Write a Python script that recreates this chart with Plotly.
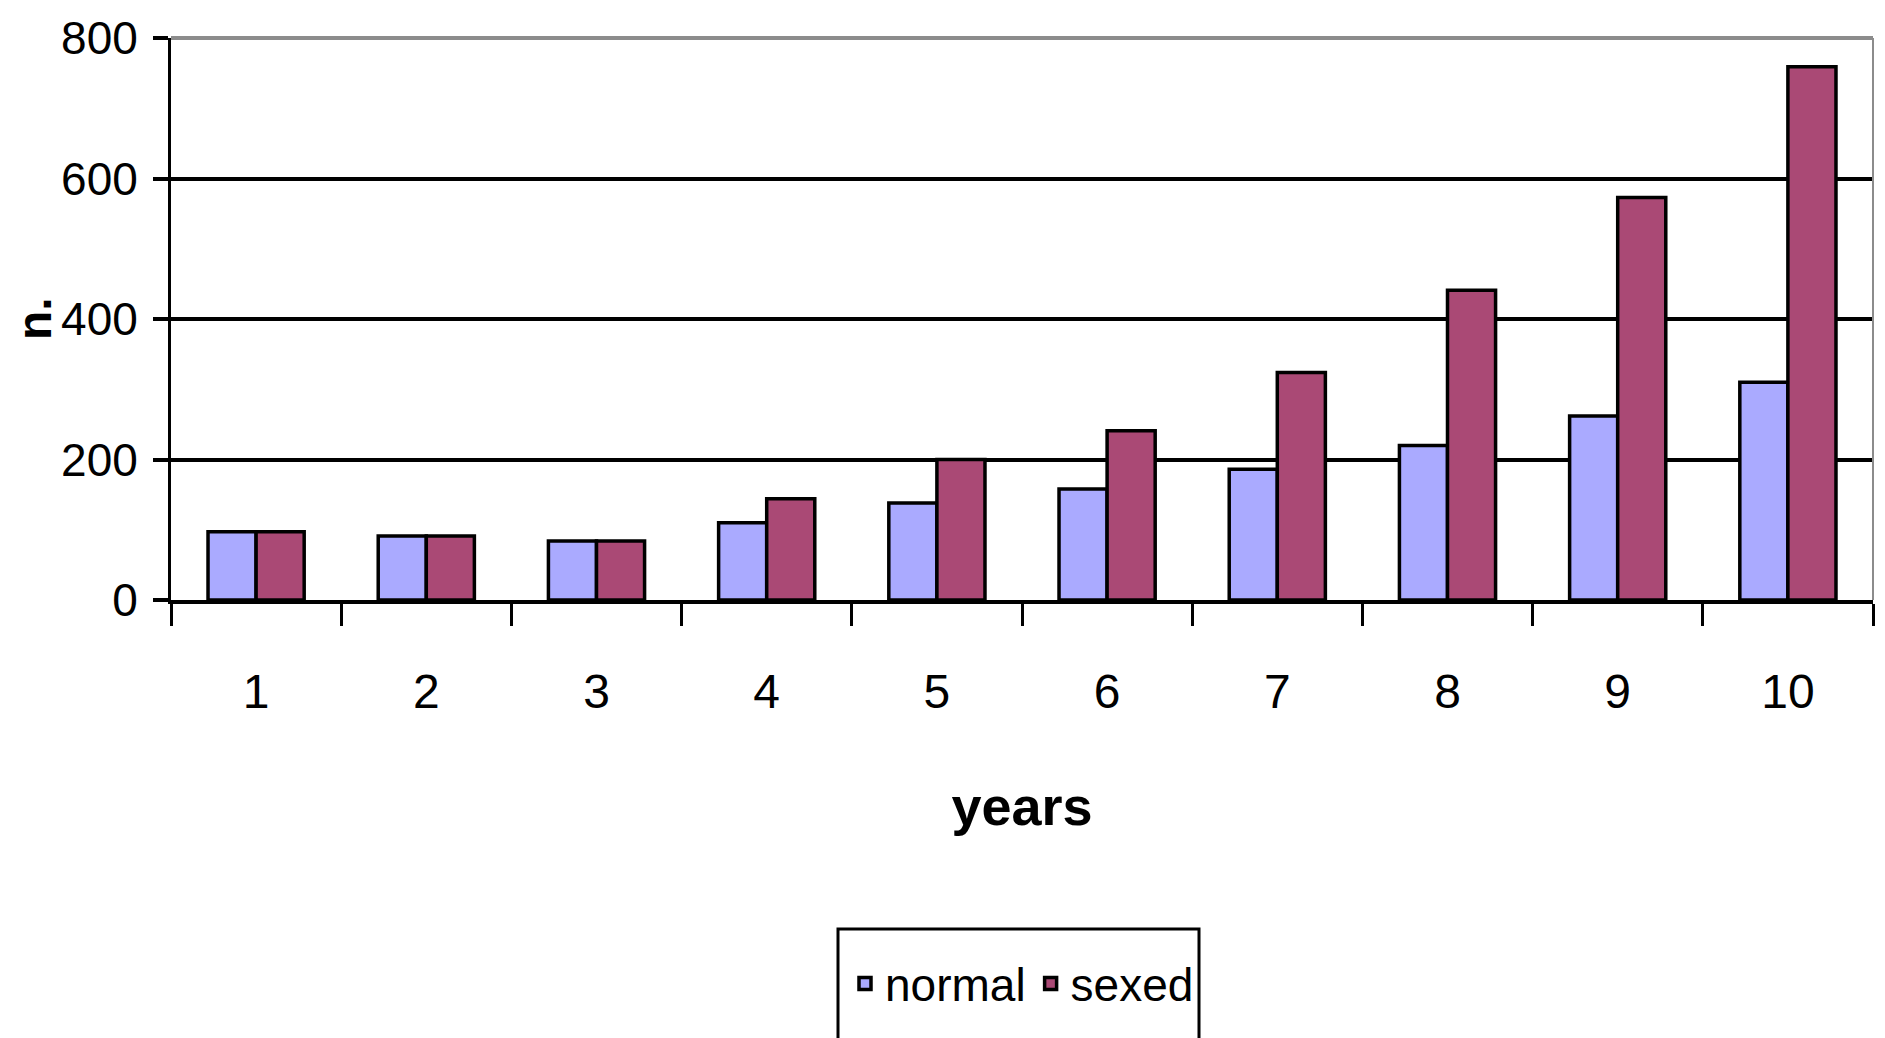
import plotly.graph_objects as go

years = ["1", "2", "3", "4", "5", "6", "7", "8", "9", "10"]
normal = [97, 91, 84, 110, 138, 158, 186, 220, 262, 310]
sexed = [97, 91, 84, 144, 200, 241, 324, 441, 573, 759]
y_ticks = [0, 200, 400, 600, 800]

FONT = "Liberation Sans, Arial, sans-serif"

OFF = 8  # page body margin offset
W, H = 1885 - OFF, 1038 - OFF
L, R, T, B = 171 - OFF, 12, 38 - OFF, 438
pw, ph = W - L - R, H - T - B

def px_x(x):
    return (x - OFF - L) / pw

def px_y(y):
    return (H - B - (y - OFF)) / ph

fig = go.Figure()
fig.add_trace(go.Bar(x=years, y=normal, name="normal",
                     marker=dict(color="#AAAAFF", line=dict(color="black", width=3.5))))
fig.add_trace(go.Bar(x=years, y=sexed, name="sexed",
                     marker=dict(color="#AA4975", line=dict(color="black", width=3.5))))

fig.update_layout(
    width=W, height=H,
    margin=dict(l=L, r=R, t=T, b=B, autoexpand=False),
    paper_bgcolor="white", plot_bgcolor="white",
    barmode="group", bargap=0.435, bargroupgap=0,
    font=dict(family=FONT, color="black", size=48),
    showlegend=True,
    legend=dict(orientation="h", x=0.5, xanchor="center",
                y=px_y(947), yanchor="top",
                font=dict(family=FONT, size=46, color="black"),
                bgcolor="rgba(0,0,0,0)", borderwidth=0,
                itemwidth=30),
    xaxis=dict(type="category", tickson="boundaries",
               showline=True, linecolor="black", linewidth=4,
               ticks="outside", ticklen=22, tickwidth=2.5, tickcolor="black",
               showgrid=False, ticklabelstandoff=46,
               tickfont=dict(family=FONT, size=48),
               title=dict(text="<b>years</b>", font=dict(family=FONT, size=54), standoff=72)),
    yaxis=dict(range=[0, 800], tickvals=y_ticks,
               showline=True, linecolor="black", linewidth=3,
               ticks="outside", ticklen=15, tickwidth=4, tickcolor="black",
               showgrid=True, gridcolor="black", gridwidth=4,
               zeroline=False, ticklabelstandoff=6,
               tickfont=dict(family=FONT, size=46)),
    annotations=[
        dict(text="<b>n.</b>", xref="paper", yref="paper",
             x=px_x(34), y=0.5, xanchor="center", yanchor="middle",
             textangle=-90, showarrow=False,
             font=dict(family=FONT, size=48, color="black")),
    ],
    shapes=[
        dict(type="line", xref="paper", yref="paper", x0=0, x1=1, y0=1, y1=1,
             line=dict(color="#8c8c8c", width=4), layer="above"),
        dict(type="line", xref="paper", yref="paper", x0=1, x1=1, y0=0, y1=1,
             line=dict(color="#8c8c8c", width=2), layer="above"),
        dict(type="rect", xref="paper", yref="paper",
             x0=px_x(838), x1=px_x(1199), y0=px_y(1045), y1=px_y(929),
             line=dict(color="black", width=3), fillcolor="rgba(0,0,0,0)"),
    ],
)

fig.write_html("out.html")
